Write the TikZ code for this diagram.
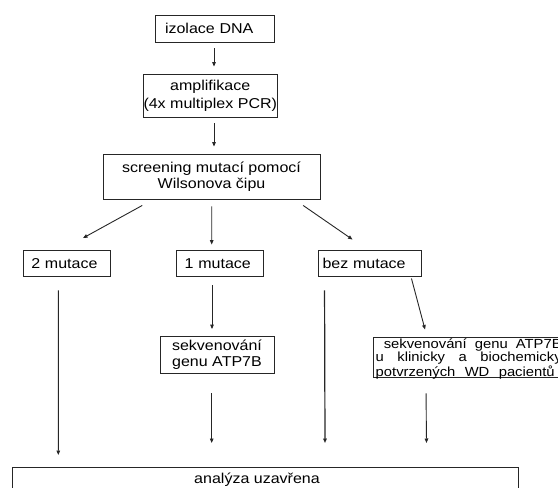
\documentclass[tikz,border=0pt]{standalone}
\usepackage{fontspec}
\setmainfont{Liberation Sans}[FakeStretch=1.12]
\usetikzlibrary{arrows.meta,calc}
\begin{document}
\begin{tikzpicture}[x=1pt,y=-1pt,
  box/.style={draw=black!85, line width=0.9pt, inner sep=0pt, align=center,
    font=\fontsize{14.3}{16}\selectfont},
  rowbox/.style={box, align=left, inner xsep=8pt, minimum height=26.5pt},
  arr/.style={draw=black!85, line width=0.9pt, -{Triangle[length=4.5pt,width=3.6pt]}},
  lbl/.style={inner sep=0pt, font=\fontsize{14.3}{16}\selectfont}]
\useasboundingbox (0,0) rectangle (558,488);
\clip (0,0) rectangle (558,488);

% main chain
\node[box, align=left, text width=99pt, inner xsep=10pt, minimum height=27pt] (izol) at (214.5,28.5) {izolace DNA};
\node[box, minimum width=129.5pt, minimum height=43pt, font=\fontsize{14.3}{18}\selectfont] (amp) at (210.25,95.5) {amplifikace\\(4x multiplex PCR)};
\node[box, minimum width=217pt, minimum height=45.5pt] (scr) at (211.5,176.75) {screening mutací pomocí\\Wilsonova čipu};

% row boxes
\node[rowbox, text width=70.7pt] (m2) at (66.65,263.25) {2 mutace};
\node[rowbox, text width=70.3pt] (m1) at (219.85,263.25) {1 mutace};
\node[rowbox, inner xsep=4pt, text width=95pt] (m0) at (370,263.25) {bez mutace};

% sequencing boxes
\node[box, minimum width=114pt, minimum height=37pt] (seq) at (217,354.5) {sekvenování\\genu ATP7B};
\node[box, minimum width=226.3pt, minimum height=40pt] (seqwd) at (486.85,357) {};
\node[anchor=north west, inner sep=0pt, align=left,
  font=\fontsize{13.2}{12}\selectfont] (wdtext) at (375.5,338.5) {\makebox[186pt][s]{\ sekvenování genu ATP7B}\\\makebox[186pt][s]{u klinicky a biochemicky}\\\makebox[179pt][s]{potvrzených WD pacientů}};

% final box
\node[draw=black!85, line width=0.9pt, minimum width=505.7pt, minimum height=53pt, inner sep=0pt, anchor=north west] (endbox) at (12.3,467) {};
\node[lbl, anchor=base] (endtext) at (257,483.5) {analýza uzavřena};

% connectors
\draw[arr] ($(izol.south)+(-0.5,6)$) -- ($(amp.north)+(3.75,-7)$);
\draw[arr] ($(amp.south)+(3.75,6)$) -- ($(scr.north)+(2.5,-7)$);
\draw[arr] ($(scr.south west)+(39.7,5.5)$) -- ($(m2.north)+(16.35,-11.5)$);
\draw[arr] ($(scr.south)+(0.2,6.5)$) -- ($(m1.north)+(-8.15,-5)$);
\draw[arr] ($(scr.south east)+(-17.3,5.5)$) -- ($(m0.north west)+(34.5,-10)$);
\draw[arr] ($(m2.south)+(-8.35,13.5)$) -- ($(endbox.north west)+(46,-12)$);
\draw[arr] ($(m1.south)+(-7.85,8.5)$) -- ($(seq.north)+(-5,-6.5)$);
\draw[arr] ($(seq.south)+(-5.3,20)$) -- ($(endbox.north west)+(199.4,-24)$);
\draw[arr, line width=1.2pt] ($(m0.south west)+(6.5,13.5)$) -- ($(endbox.north west)+(312.7,-24)$);
\draw[arr] ($(m0.south east)+(-10.5,1.5)$) -- ($(seqwd.north west)+(51.8,-7)$);
\draw[arr] ($(seqwd.south west)+(52.8,16)$) -- ($(endbox.north west)+(414.2,-24)$);
\end{tikzpicture}
\end{document}
